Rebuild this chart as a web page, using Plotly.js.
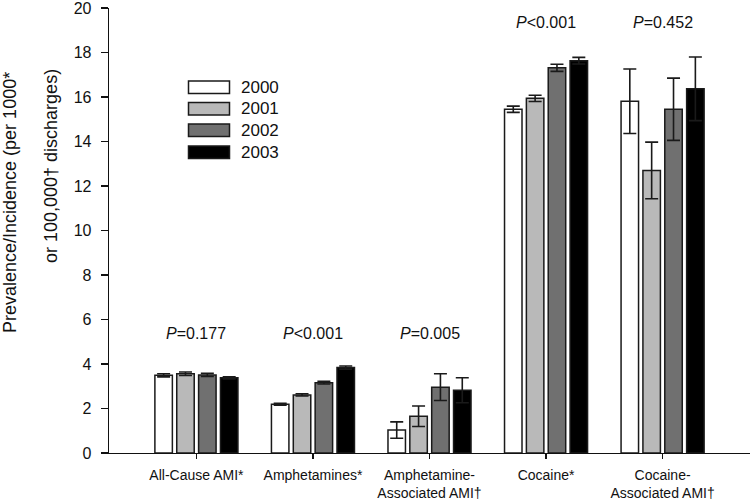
<!DOCTYPE html>
<html>
<head>
<meta charset="utf-8">
<script src="https://cdn.plot.ly/plotly-3.0.1.min.js"></script>
<style>html,body{margin:0;padding:0;background:#fff;}#chart{width:750px;height:501px;}</style>
</head>
<body>
<div id="chart"></div>
<script>
// ---- data ----
const categories = ["All-Cause AMI*", "Amphetamines*", "Amphetamine-<br>Associated AMI†", "Cocaine*", "Cocaine-<br>Associated AMI†"];
const years = ["2000", "2001", "2002", "2003"];
const v2000 = [3.49, 2.19, 1.03, 15.45, 15.81];
const v2001 = [3.56, 2.61, 1.65, 15.94, 12.70];
const v2002 = [3.51, 3.16, 2.96, 17.31, 15.45];
const v2003 = [3.38, 3.84, 2.82, 17.63, 16.37];
const e2000 = [0.07, 0.04, 0.37, 0.14, 1.45];
const e2001 = [0.08, 0.05, 0.46, 0.14, 1.27];
const e2002 = [0.07, 0.06, 0.60, 0.16, 1.40];
const e2003 = [0.05, 0.07, 0.56, 0.15, 1.43];
const pLabels = ["<i>P</i>=0.177", "<i>P</i><0.001", "<i>P</i>=0.005", "<i>P</i><0.001", "<i>P</i>=0.452"];
const pY = [5.39, 5.39, 5.39, 19.37, 19.37];
const yTicks = [0, 2, 4, 6, 8, 10, 12, 14, 16, 18, 20];

const fills = ["#ffffff", "#b9b9b9", "#707070", "#000000"];
const vals = [v2000, v2001, v2002, v2003];
const errs = [e2000, e2001, e2002, e2003];
const xIdx = categories.map((c, i) => i);

const traces = years.map((y, k) => ({
  type: "bar",
  name: y,
  x: xIdx,
  y: vals[k],
  marker: {color: fills[k], line: {color: "#1a1a1a", width: 1.5}},
  error_y: {type: "data", array: errs[k], visible: true, color: "#1a1a1a", thickness: 1.6, width: 6.5},
  showlegend: false,
  hoverinfo: "skip"
}));

const FONT = "Liberation Sans, Arial, sans-serif";
const TOP = 8, BOTTOM = 48;
const plotL = 109, plotW = 641, plotB = 501 - BOTTOM, plotH = 501 - BOTTOM - TOP;
const px = v => (v - plotL) / plotW;
const py = v => (plotB - v) / plotH;

const annotations = pLabels.map((t, i) => ({
  x: i, y: pY[i], xref: "x", yref: "y", text: t, showarrow: false,
  font: {family: FONT, size: 16, color: "#111"}, xanchor: "center", yanchor: "middle"
}));

// y-axis title (two lines)
annotations.push({x: px(12), y: py(203), xref: "paper", yref: "paper", text: "Prevalence/Incidence (per 1000*", showarrow: false, textangle: -90, font: {family: FONT, size: 18, color: "#111"}, xanchor: "center", yanchor: "middle", xshift: -2});
annotations.push({x: px(44), y: py(166), xref: "paper", yref: "paper", text: "or 100,000† discharges)", showarrow: false, textangle: -90, font: {family: FONT, size: 18, color: "#111"}, xanchor: "center", yanchor: "middle", xshift: 7});

// custom legend (wide boxes)
const shapes = [];
const rowTop = [81, 102.5, 124, 146];
years.forEach((y, k) => {
  shapes.push({type: "rect", xref: "paper", yref: "paper", x0: px(188.5), x1: px(229.5), y0: py(rowTop[k] + 12.5), y1: py(rowTop[k]), fillcolor: fills[k], line: {color: "#1a1a1a", width: 1.5}});
  annotations.push({xref: "paper", yref: "paper", x: px(239), y: py(rowTop[k] + 6.5), text: y, showarrow: false, xanchor: "left", yanchor: "middle", font: {family: FONT, size: 17, color: "#111"}});
});

const layout = {
  width: 750, height: 501,
  margin: {l: 109, r: 0, t: TOP, b: BOTTOM, pad: 0},
  paper_bgcolor: "#fff", plot_bgcolor: "#fff",
  barmode: "group", bargap: 0.25, bargroupgap: 0.2,
  showlegend: false,
  xaxis: {
    range: [-0.75, 4.75], tickmode: "array", tickvals: xIdx, ticktext: categories,
    showline: true, linecolor: "#111", linewidth: 1.3, ticks: "outside", ticklen: 5, tickwidth: 1.2, tickcolor: "#111",
    showgrid: false, zeroline: false, tickfont: {family: FONT, size: 14, color: "#111"}, ticklabelstandoff: 4
  },
  yaxis: {
    range: [0, 20], tickmode: "array", tickvals: yTicks, ticklabeloverflow: "allow",
    showline: true, linecolor: "#111", linewidth: 1.3, ticks: "outside", ticklen: 7, tickwidth: 1.2, tickcolor: "#111",
    showgrid: false, zeroline: false, tickfont: {family: FONT, size: 16, color: "#111"}, ticklabelstandoff: 6
  },
  annotations: annotations,
  shapes: shapes
};

Plotly.newPlot("chart", traces, layout, {displayModeBar: false, staticPlot: true});
</script>
</body>
</html>
